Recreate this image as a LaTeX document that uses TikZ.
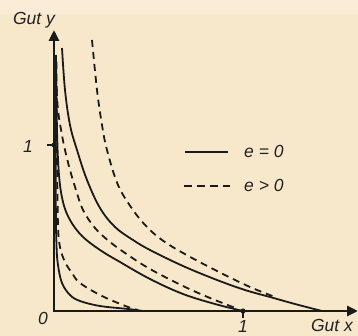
\documentclass[tikz,border=0pt]{standalone}
\usepackage{fontspec}
\setmainfont{Liberation Sans}
\usetikzlibrary{arrows.meta}
\definecolor{bg}{HTML}{F8E8CB}
\definecolor{bgtop}{HTML}{FBECD7}
\definecolor{ink}{HTML}{1A1A1A}
\definecolor{txt}{HTML}{222222}
\tikzset{
  axis/.style={line width=2.8pt, draw=ink, -{Triangle[length=11pt,width=10pt]}},
  solidc/.style={line width=1.8pt, draw=ink},
  dashc/.style={line width=1.8pt, draw=ink, dash pattern=on 7pt off 5pt},
  lbl/.style={text=txt, font=\fontsize{17.5}{20}\selectfont\itshape, inner sep=0pt}
}
\begin{document}
\begin{tikzpicture}[x=1pt,y=-1pt]
\fill[bg] (0,0) rectangle (358,336);
\fill[bgtop] (0,0) rectangle (358,14);
\useasboundingbox (0,0) rectangle (358,336);

\coordinate (O) at (54,311);
\coordinate (Ytip) at (54,30);
\coordinate (Xtip) at (358,311);
\coordinate (Y1) at (54,145);
\coordinate (X1) at (243,311);

% pair 3
\draw[solidc] plot[smooth, tension=0.6] coordinates {(62,48) (65,90) (70,125) (77,150) (87,180) (100,208) (115,227) (133,240) (150,250) (183,266) (217,280) (245,290) (270,297) (295,304) (322,311)};
\draw[dashc] plot[smooth, tension=0.6] coordinates {(92,40) (97,90) (102,125) (107,150) (118,185) (133,210) (147,227) (162,240) (183,253) (217,271) (250,287) (275,297)};
% pair 2
\draw[solidc] plot[smooth, tension=0.6] coordinates {(56,55) (57,130) (59,175) (63,202) (70,220) (82,236) (100,250) (120,262) (150,279) (183,294) (215,304) (243,311)};
\draw[dashc] plot[smooth, tension=0.6] coordinates {(56,77) (58,110) (62,135) (65,150) (70,170) (76,190) (83,210) (95,228) (110,242) (128,255) (150,269) (183,286) (210,298) (238,309)};
% pair 1
\draw[solidc] plot[smooth, tension=0.6] coordinates {(55.5,60) (55.8,200) (56.5,245) (58,265) (62,283) (70,295) (80,301) (100,306) (128,309) (143,311)};
\draw[dashc] plot[smooth, tension=0.6] coordinates {(56.5,62) (57,150) (58,225) (60,247) (65,262) (72,273) (80,283) (102,296) (128,307) (138,310)};

% axes
\draw[axis] (O) -- (Ytip);
\draw[axis] ([xshift=-1.4pt]O) -- (Xtip);

% ticks
\draw[line width=1.4pt, draw=ink] (Y1) -- ++(-7,0);
\fill[ink] (Y1) circle (2.6pt);
\draw[line width=1.4pt, draw=ink] (X1) -- ++(0,7);
\fill[ink] (X1) circle (2.6pt);

% labels
\node[lbl] (ly) at (34,20) {Gut y};
\node[lbl] (lx) at (332,325) {Gut x};
\node[lbl] (l0) at (43,318) {0};
\node[lbl] (ly1) at (28,146) {1};
\node[lbl] (lx1) at (243,326) {1};

% legend
\coordinate (s1) at (185,152);
\coordinate (s2) at (228,152);
\coordinate (d1) at (184,186);
\coordinate (d2) at (230,186);
\draw[solidc] (s1) -- (s2);
\draw[line width=1.8pt, draw=ink, dash pattern=on 8pt off 5pt] (d1) -- (d2);
\node[lbl, anchor=west] (le0) at (244,151) {e = 0};
\node[lbl, anchor=west] (le1) at (244,185) {e > 0};
\end{tikzpicture}
\end{document}
